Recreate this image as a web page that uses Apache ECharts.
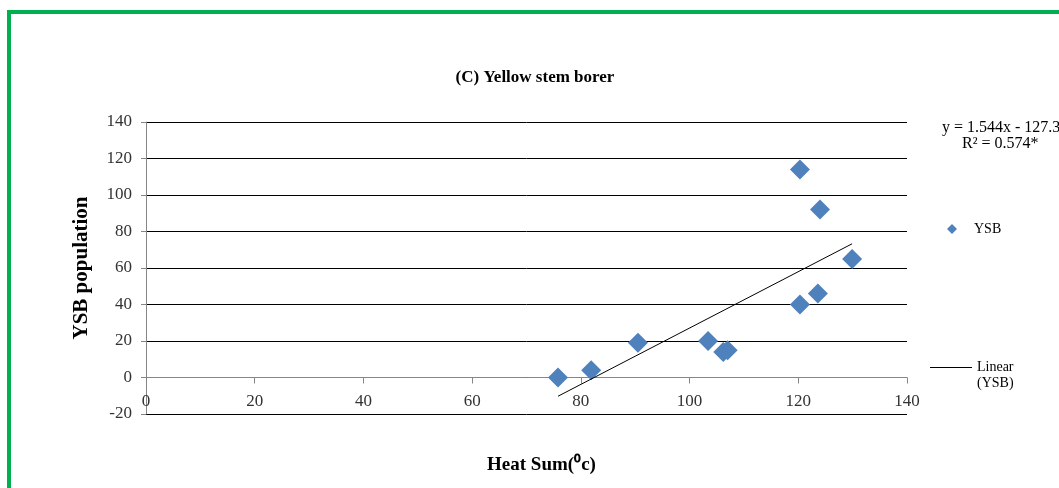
<!DOCTYPE html>
<html>
<head>
<meta charset="utf-8">
<title>(C) Yellow stem borer</title>
<script src="https://cdn.jsdelivr.net/npm/echarts@6/dist/echarts.min.js"></script>
<style>
  html, body { margin: 0; padding: 0; background: #fff; }
  #chart { width: 1059px; height: 488px; }
</style>
</head>
<body>
<div id="chart"></div>
<script>
// heat sum (x) and YSB population (y)
const heatSum = [75.8, 81.9, 90.5, 103.4, 106.2, 107.0, 120.3, 123.6, 129.9, 120.3, 124.0]
const ysbPop = [0, 4, 19, 20, 14, 15, 40, 46, 65, 114, 92]

// linear trend as printed on the chart
const slope = 1.544
const intercept = -127.3
const eqText = 'y = 1.544x - 127.3'
const r2Text = 'R² = 0.574*'

const serif = '"Liberation Serif", "Times New Roman", serif'

const points = heatSum.map((x, i) => [x, ysbPop[i]])
const xLo = Math.min(...heatSum)
const xHi = Math.max(...heatSum)
const trend = [[xLo, slope * xLo + intercept], [xHi, slope * xHi + intercept]]

const chart = echarts.init(document.getElementById('chart'))
chart.setOption({
  animation: false,
  title: {
    text: '(C) Yellow stem borer',
    left: 530,
    top: 64,
    textAlign: 'center',
    textStyle: { fontFamily: serif, fontSize: 17, fontWeight: 'bold', color: '#000' }
  },
  grid: { left: 146, right: 152, top: 122, bottom: 74, outerBoundsMode: 'none', containLabel: false },
  legend: [{
    data: ['YSB'],
    left: 942,
    top: 217,
    orient: 'vertical',
    itemWidth: 10,
    itemHeight: 10,
    textStyle: { fontFamily: serif, fontSize: 14, color: '#000', padding: [0, 0, 0, 12] }
  }, {
    // line sits at the top of the icon box so it lines up with "Linear"
    data: [{ name: 'Linear (YSB)', icon: 'path://M0,0 L42,0 L42,1 L0,1 Z M0,16 L0.01,16 L0,16.01 Z' }],
    left: 925,
    top: 354,
    itemWidth: 42,
    itemHeight: 17,
    formatter: () => 'Linear\n(YSB)',
    textStyle: { fontFamily: serif, fontSize: 14, color: '#000', lineHeight: 16 }
  }],
  xAxis: {
    type: 'value',
    min: 0,
    max: 140,
    interval: 20,
    name: 'Heat Sum(⁰c)',
    nameLocation: 'middle',
    nameGap: 42,
    nameTextStyle: { fontFamily: serif, fontSize: 19, fontWeight: 'bold', color: '#000', padding: [0, 0, 0, 30] },
    axisLine: { onZero: true, lineStyle: { color: '#868686' } },
    axisTick: { show: true, length: 6, lineStyle: { color: '#868686' } },
    axisLabel: { fontFamily: serif, fontSize: 17, color: '#333', margin: -21 },
    splitLine: { show: false }
  },
  yAxis: {
    type: 'value',
    min: -20,
    max: 140,
    interval: 20,
    name: 'YSB population',
    nameLocation: 'middle',
    nameGap: 54,
    nameTextStyle: { fontFamily: serif, fontSize: 21, fontWeight: 'bold', color: '#000' },
    axisLine: { show: true, lineStyle: { color: '#868686' } },
    axisTick: { show: true, length: 5, lineStyle: { color: '#868686' } },
    axisLabel: { fontFamily: serif, fontSize: 17, color: '#333', margin: 14 },
    splitLine: { show: true, lineStyle: { color: '#000', width: 1 } }
  },
  series: [{
    name: 'YSB',
    type: 'scatter',
    symbol: 'diamond',
    symbolSize: 20,
    itemStyle: { color: '#4F81BD', opacity: 1 },
    data: points
  }, {
    name: 'Linear (YSB)',
    type: 'line',
    symbol: 'none',
    itemStyle: { color: '#000' },
    lineStyle: { color: '#000', width: 1 },
    data: trend
  }],
  graphic: [{
    type: 'rect',
    shape: { x: 9, y: 12, width: 1100, height: 520 },
    style: { fill: 'none', stroke: '#00B050', lineWidth: 4 }
  }, {
    type: 'text',
    left: 942,
    top: 120,
    style: { text: eqText, font: '16px ' + serif, fill: '#000' }
  }, {
    type: 'text',
    left: 962,
    top: 136,
    style: { text: r2Text, font: '16px ' + serif, fill: '#000' }
  }]
})
</script>
</body>
</html>
